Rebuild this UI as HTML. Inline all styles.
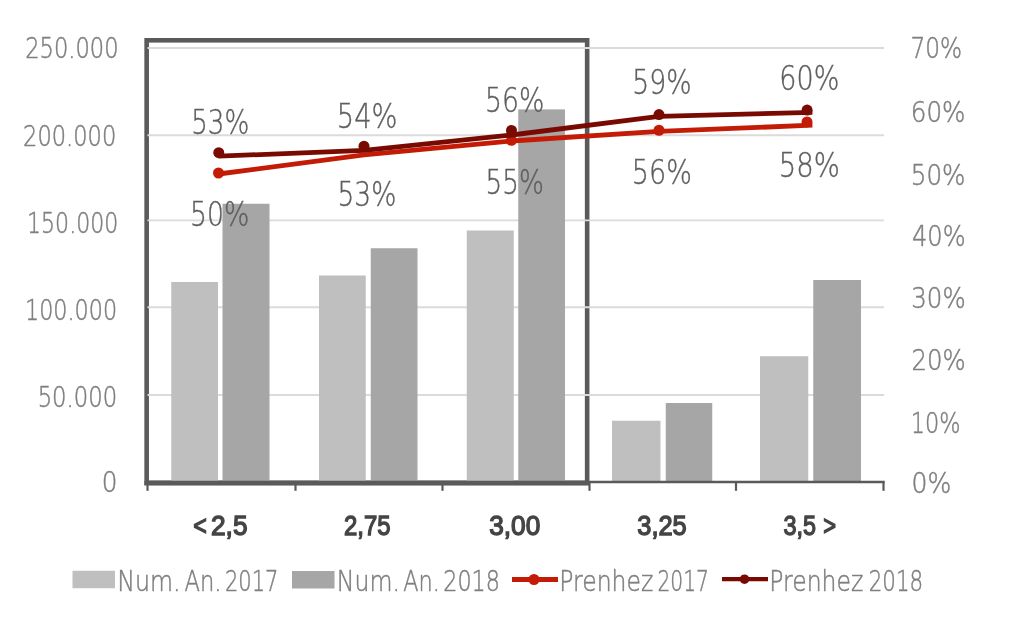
<!DOCTYPE html>
<html lang="pt"><head><meta charset="utf-8"><title>Num. An. / Prenhez</title>
<style>html,body{margin:0;padding:0;background:#fff}body{width:1016px;height:630px;overflow:hidden}svg{display:block}</style></head><body>
<svg width="1016" height="630" viewBox="0 0 1016 630">
<rect width="1016" height="630" fill="#fff"/>
<rect x="146.65" y="40.3" width="440.5" height="442.5" fill="none" stroke="#5a5a5a" stroke-width="4.6"/>
<line x1="147.5" x2="884" y1="48" y2="48" stroke="#dbdbdb" stroke-width="1.9"/>
<line x1="147.5" x2="884" y1="135.2" y2="135.2" stroke="#dbdbdb" stroke-width="1.9"/>
<line x1="147.5" x2="884" y1="220.4" y2="220.4" stroke="#dbdbdb" stroke-width="1.9"/>
<line x1="147.5" x2="884" y1="307.3" y2="307.3" stroke="#dbdbdb" stroke-width="1.9"/>
<line x1="147.5" x2="884" y1="395" y2="395" stroke="#dbdbdb" stroke-width="1.9"/>
<rect x="171.25" y="282" width="46.75" height="200.00" fill="#bfbfbf"/>
<rect x="222.5" y="203.75" width="47.00" height="278.25" fill="#a6a6a6"/>
<rect x="319" y="275.5" width="46.75" height="206.50" fill="#bfbfbf"/>
<rect x="370.75" y="248.25" width="46.75" height="233.75" fill="#a6a6a6"/>
<rect x="466.75" y="230.5" width="47.00" height="251.50" fill="#bfbfbf"/>
<rect x="518.25" y="109.4" width="46.75" height="372.60" fill="#a6a6a6"/>
<rect x="612" y="420.75" width="48.50" height="61.25" fill="#bfbfbf"/>
<rect x="665.75" y="403" width="46.50" height="79.00" fill="#a6a6a6"/>
<rect x="760" y="356.25" width="48.25" height="125.75" fill="#bfbfbf"/>
<rect x="813.25" y="280" width="47.75" height="202.00" fill="#a6a6a6"/>
<line x1="146.5" x2="884.7" y1="482" y2="482" stroke="#5a5a5a" stroke-width="2.4"/>
<line x1="147.5" x2="147.5" y1="482" y2="490.8" stroke="#5a5a5a" stroke-width="2.2"/>
<line x1="295.5" x2="295.5" y1="482" y2="490.8" stroke="#5a5a5a" stroke-width="2.2"/>
<line x1="442.5" x2="442.5" y1="482" y2="490.8" stroke="#5a5a5a" stroke-width="2.2"/>
<line x1="589.5" x2="589.5" y1="482" y2="490.8" stroke="#5a5a5a" stroke-width="2.2"/>
<line x1="736" x2="736" y1="482" y2="490.8" stroke="#5a5a5a" stroke-width="2.2"/>
<line x1="883.5" x2="883.5" y1="482" y2="490.8" stroke="#5a5a5a" stroke-width="2.2"/>
<line x1="144.4" x2="589.3" y1="483.2" y2="483.2" stroke="#5a5a5a" stroke-width="4.5"/>
<polyline fill="none" stroke="#c31b05" stroke-width="4.8" stroke-linejoin="round" points="218.5,174.0 364,154.8 511.5,141.0 659,131.4 812.4,125.2"/>
<circle cx="218.5" cy="173" r="5.5" fill="#c31b05"/>
<circle cx="511.5" cy="140.3" r="5.5" fill="#c31b05"/>
<circle cx="659" cy="130.25" r="5.5" fill="#c31b05"/>
<circle cx="807" cy="121.9" r="5.5" fill="#c31b05"/>
<polyline fill="none" stroke="#780a02" stroke-width="4.8" stroke-linejoin="round" points="218.75,156.2 364,150.4 511.5,135.0 659,116.4 812.4,112.4"/>
<circle cx="218.75" cy="152.7" r="5.5" fill="#780a02"/>
<circle cx="364" cy="146.2" r="5.5" fill="#780a02"/>
<circle cx="511.5" cy="130.5" r="5.5" fill="#780a02"/>
<circle cx="659" cy="114.6" r="5.5" fill="#780a02"/>
<circle cx="807.1" cy="110.1" r="5.5" fill="#780a02"/>
<rect x="72.5" y="570.75" width="42.5" height="17.5" fill="#bfbfbf"/>
<rect x="292" y="571" width="42.5" height="17.5" fill="#a6a6a6"/>
<line x1="512" x2="558" y1="579.5" y2="579.5" stroke="#c31b05" stroke-width="4.8"/><circle cx="534" cy="579.5" r="5.5" fill="#c31b05"/>
<line x1="722" x2="768" y1="579.2" y2="579.2" stroke="#780a02" stroke-width="4.3"/><circle cx="744.5" cy="579.2" r="4.8" fill="#780a02"/>
<text y="58.00" font-family="'DejaVu Sans Light','DejaVu Sans','Liberation Sans',sans-serif" font-size="29.10" fill="#7f7f7f" stroke="#7f7f7f" stroke-width="0.5" x="25.25" textLength="93.26" lengthAdjust="spacingAndGlyphs">250.000</text>
<text y="146.25" font-family="'DejaVu Sans Light','DejaVu Sans','Liberation Sans',sans-serif" font-size="29.10" fill="#7f7f7f" stroke="#7f7f7f" stroke-width="0.5" x="23.10" textLength="93.11" lengthAdjust="spacingAndGlyphs">200.000</text>
<text y="232.97" font-family="'DejaVu Sans Light','DejaVu Sans','Liberation Sans',sans-serif" font-size="29.10" fill="#7f7f7f" stroke="#7f7f7f" stroke-width="0.5" x="27.10" textLength="91.09" lengthAdjust="spacingAndGlyphs">150.000</text>
<text y="319.75" font-family="'DejaVu Sans Light','DejaVu Sans','Liberation Sans',sans-serif" font-size="29.10" fill="#7f7f7f" stroke="#7f7f7f" stroke-width="0.5" x="25.05" textLength="92.03" lengthAdjust="spacingAndGlyphs">100.000</text>
<text y="407.15" font-family="'DejaVu Sans Light','DejaVu Sans','Liberation Sans',sans-serif" font-size="29.10" fill="#7f7f7f" stroke="#7f7f7f" stroke-width="0.5" x="37.65" textLength="79.45" lengthAdjust="spacingAndGlyphs">50.000</text>
<text y="491.85" font-family="'DejaVu Sans Light','DejaVu Sans','Liberation Sans',sans-serif" font-size="29.10" fill="#7f7f7f" stroke="#7f7f7f" stroke-width="0.5" x="101.75" textLength="15.70" lengthAdjust="spacingAndGlyphs">0</text>
<text y="58.12" font-family="'DejaVu Sans Light','DejaVu Sans','Liberation Sans',sans-serif" font-size="29.10" fill="#7f7f7f" stroke="#7f7f7f" stroke-width="0.5" x="910.50" textLength="51.59" lengthAdjust="spacingAndGlyphs">70%</text>
<text y="121.52" font-family="'DejaVu Sans Light','DejaVu Sans','Liberation Sans',sans-serif" font-size="29.10" fill="#7f7f7f" stroke="#7f7f7f" stroke-width="0.5" x="910.75" textLength="54.76" lengthAdjust="spacingAndGlyphs">60%</text>
<text y="184.67" font-family="'DejaVu Sans Light','DejaVu Sans','Liberation Sans',sans-serif" font-size="29.10" fill="#7f7f7f" stroke="#7f7f7f" stroke-width="0.5" x="910.75" textLength="54.76" lengthAdjust="spacingAndGlyphs">50%</text>
<text y="246.38" font-family="'DejaVu Sans Light','DejaVu Sans','Liberation Sans',sans-serif" font-size="29.10" fill="#7f7f7f" stroke="#7f7f7f" stroke-width="0.5" x="912.00" textLength="53.63" lengthAdjust="spacingAndGlyphs">40%</text>
<text y="307.72" font-family="'DejaVu Sans Light','DejaVu Sans','Liberation Sans',sans-serif" font-size="29.10" fill="#7f7f7f" stroke="#7f7f7f" stroke-width="0.5" x="911.25" textLength="54.45" lengthAdjust="spacingAndGlyphs">30%</text>
<text y="369.67" font-family="'DejaVu Sans Light','DejaVu Sans','Liberation Sans',sans-serif" font-size="29.10" fill="#7f7f7f" stroke="#7f7f7f" stroke-width="0.5" x="911.50" textLength="54.19" lengthAdjust="spacingAndGlyphs">20%</text>
<text y="432.58" font-family="'DejaVu Sans Light','DejaVu Sans','Liberation Sans',sans-serif" font-size="29.10" fill="#7f7f7f" stroke="#7f7f7f" stroke-width="0.5" x="910.75" textLength="49.79" lengthAdjust="spacingAndGlyphs">10%</text>
<text y="492.67" font-family="'DejaVu Sans Light','DejaVu Sans','Liberation Sans',sans-serif" font-size="29.10" fill="#7f7f7f" stroke="#7f7f7f" stroke-width="0.5" x="911.50" textLength="39.82" lengthAdjust="spacingAndGlyphs">0%</text>
<text y="134.47" font-family="'DejaVu Sans Light','DejaVu Sans','Liberation Sans',sans-serif" font-size="33.30" fill="#5e5e5e" stroke="#5e5e5e" stroke-width="0.4" x="191.25" textLength="58.07" lengthAdjust="spacingAndGlyphs">53%</text>
<text y="128.08" font-family="'DejaVu Sans Light','DejaVu Sans','Liberation Sans',sans-serif" font-size="33.30" fill="#5e5e5e" stroke="#5e5e5e" stroke-width="0.4" x="336.85" textLength="60.63" lengthAdjust="spacingAndGlyphs">54%</text>
<text y="111.83" font-family="'DejaVu Sans Light','DejaVu Sans','Liberation Sans',sans-serif" font-size="33.30" fill="#5e5e5e" stroke="#5e5e5e" stroke-width="0.4" x="485.00" textLength="59.31" lengthAdjust="spacingAndGlyphs">56%</text>
<text y="94.33" font-family="'DejaVu Sans Light','DejaVu Sans','Liberation Sans',sans-serif" font-size="33.30" fill="#5e5e5e" stroke="#5e5e5e" stroke-width="0.4" x="632.25" textLength="59.31" lengthAdjust="spacingAndGlyphs">59%</text>
<text y="89.97" font-family="'DejaVu Sans Light','DejaVu Sans','Liberation Sans',sans-serif" font-size="33.30" fill="#5e5e5e" stroke="#5e5e5e" stroke-width="0.4" x="779.35" textLength="59.97" lengthAdjust="spacingAndGlyphs">60%</text>
<text y="226.33" font-family="'DejaVu Sans Light','DejaVu Sans','Liberation Sans',sans-serif" font-size="33.30" fill="#5e5e5e" stroke="#5e5e5e" stroke-width="0.4" x="190.00" textLength="59.31" lengthAdjust="spacingAndGlyphs">50%</text>
<text y="206.33" font-family="'DejaVu Sans Light','DejaVu Sans','Liberation Sans',sans-serif" font-size="33.30" fill="#5e5e5e" stroke="#5e5e5e" stroke-width="0.4" x="337.50" textLength="58.82" lengthAdjust="spacingAndGlyphs">53%</text>
<text y="193.83" font-family="'DejaVu Sans Light','DejaVu Sans','Liberation Sans',sans-serif" font-size="33.30" fill="#5e5e5e" stroke="#5e5e5e" stroke-width="0.4" x="485.50" textLength="58.32" lengthAdjust="spacingAndGlyphs">55%</text>
<text y="184.33" font-family="'DejaVu Sans Light','DejaVu Sans','Liberation Sans',sans-serif" font-size="33.30" fill="#5e5e5e" stroke="#5e5e5e" stroke-width="0.4" x="631.75" textLength="60.06" lengthAdjust="spacingAndGlyphs">56%</text>
<text y="176.83" font-family="'DejaVu Sans Light','DejaVu Sans','Liberation Sans',sans-serif" font-size="33.30" fill="#5e5e5e" stroke="#5e5e5e" stroke-width="0.4" x="778.75" textLength="61.05" lengthAdjust="spacingAndGlyphs">58%</text>
<text y="534.50" font-family="'Liberation Sans','DejaVu Sans',sans-serif" font-size="28.40" fill="#444444" stroke="#444444" stroke-width="1.4"><tspan x="193.25" textLength="13.59" lengthAdjust="spacingAndGlyphs">&lt;</tspan> <tspan x="211.00" textLength="36.55" lengthAdjust="spacingAndGlyphs">2,5</tspan></text>
<text y="534.50" font-family="'Liberation Sans','DejaVu Sans',sans-serif" font-size="28.40" fill="#444444" stroke="#444444" stroke-width="1.4" x="344.00" textLength="46.52" lengthAdjust="spacingAndGlyphs">2,75</text>
<text y="534.50" font-family="'Liberation Sans','DejaVu Sans',sans-serif" font-size="28.40" fill="#444444" stroke="#444444" stroke-width="1.4" x="489.25" textLength="51.01" lengthAdjust="spacingAndGlyphs">3,00</text>
<text y="534.50" font-family="'Liberation Sans','DejaVu Sans',sans-serif" font-size="28.40" fill="#444444" stroke="#444444" stroke-width="1.4" x="637.25" textLength="49.51" lengthAdjust="spacingAndGlyphs">3,25</text>
<text y="534.50" font-family="'Liberation Sans','DejaVu Sans',sans-serif" font-size="28.40" fill="#444444" stroke="#444444" stroke-width="1.4"><tspan x="783.50" textLength="32.52" lengthAdjust="spacingAndGlyphs">3,5</tspan> <tspan x="823.25" textLength="12.84" lengthAdjust="spacingAndGlyphs">&gt;</tspan></text>
<text y="590.75" font-family="'DejaVu Sans Light','DejaVu Sans','Liberation Sans',sans-serif" font-size="28.40" fill="#7f7f7f" stroke="#7f7f7f" stroke-width="0.5"><tspan x="117.25" textLength="63.28" lengthAdjust="spacingAndGlyphs">Num.</tspan> <tspan x="184.50" textLength="37.04" lengthAdjust="spacingAndGlyphs">An.</tspan> <tspan x="225.00" textLength="53.48" lengthAdjust="spacingAndGlyphs">2017</tspan></text>
<text y="590.75" font-family="'DejaVu Sans Light','DejaVu Sans','Liberation Sans',sans-serif" font-size="28.40" fill="#7f7f7f" stroke="#7f7f7f" stroke-width="0.5"><tspan x="336.75" textLength="63.28" lengthAdjust="spacingAndGlyphs">Num.</tspan> <tspan x="403.25" textLength="36.55" lengthAdjust="spacingAndGlyphs">An.</tspan> <tspan x="443.25" textLength="56.68" lengthAdjust="spacingAndGlyphs">2018</tspan></text>
<text y="590.75" font-family="'DejaVu Sans Light','DejaVu Sans','Liberation Sans',sans-serif" font-size="28.40" fill="#7f7f7f" stroke="#7f7f7f" stroke-width="0.5"><tspan x="559.25" textLength="94.13" lengthAdjust="spacingAndGlyphs">Prenhez</tspan> <tspan x="657.50" textLength="51.47" lengthAdjust="spacingAndGlyphs">2017</tspan></text>
<text y="590.75" font-family="'DejaVu Sans Light','DejaVu Sans','Liberation Sans',sans-serif" font-size="28.40" fill="#7f7f7f" stroke="#7f7f7f" stroke-width="0.5"><tspan x="769.25" textLength="94.13" lengthAdjust="spacingAndGlyphs">Prenhez</tspan> <tspan x="868.75" textLength="54.44" lengthAdjust="spacingAndGlyphs">2018</tspan></text>
</svg></body></html>
